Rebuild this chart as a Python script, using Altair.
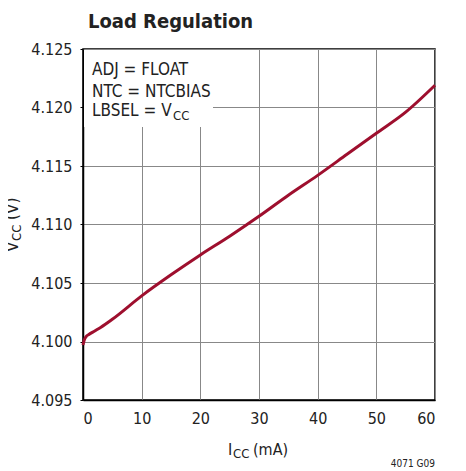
import altair as alt
import pandas as pd

# data
icc_ma = [0, 0.2, 0.5, 1, 2, 3, 5, 10, 15, 20, 25, 30, 35, 40, 45, 50, 55, 60]
vcc_v = [4.0997, 4.1001, 4.1004, 4.1006, 4.1009, 4.1012, 4.1019, 4.1039, 4.1057, 4.1074, 4.1090, 4.1107, 4.1125, 4.1142, 4.1160, 4.1178, 4.1196, 4.1219]
x_ticks = [0, 10, 20, 30, 40, 50, 60]
y_ticks = [4.095, 4.100, 4.105, 4.110, 4.115, 4.120, 4.125]
notes = ["ADJ = FLOAT", "NTC = NTCBIAS", "LBSEL = V"]

df = pd.DataFrame({"icc": icc_ma, "vcc": vcc_v})
FONT = "Liberation Sans Narrow, DejaVu Sans Condensed, Roboto, sans-serif"
W, H = 352, 351
RED = "#9e0f2e"

base = alt.Chart(df)
line = base.mark_line(color=RED, strokeWidth=3, interpolate="monotone").encode(
    x=alt.X("icc:Q", scale=alt.Scale(domain=[0, 60], nice=False),
            axis=alt.Axis(values=x_ticks, title=None, format="d", labelFontSize=16,
                          labelPadding=10, tickSize=0, gridColor="#888888", gridWidth=1)),
    y=alt.Y("vcc:Q", scale=alt.Scale(domain=[4.095, 4.125], nice=False, zero=False),
            axis=alt.Axis(values=y_ticks, title=None, format=".3f", labelFontSize=16,
                          labelPadding=8, tickSize=3, tickColor="#000000",
                          gridColor="#888888", gridWidth=1)),
)

def txt(s, x, y, size=16, weight="normal", align="left", angle=0, baseline="alphabetic"):
    return alt.Chart(pd.DataFrame({"t": [s]})).mark_text(
        font=FONT, fontSize=size, fontWeight=weight, align=align, baseline=baseline,
        angle=angle, color="#222222", clip=False
    ).encode(text="t:N", x=alt.value(x), y=alt.value(y))

box = alt.Chart(pd.DataFrame({"a": [0]})).mark_rect(color="white").encode(
    x=alt.value(1), x2=alt.value(130), y=alt.value(1), y2=alt.value(78))

layers = [line, box,
          txt(notes[0], 9, 26, size=17), txt(notes[1], 9, 48, size=17), txt(notes[2], 9, 67, size=17),
          txt("CC", 90, 71, size=13),
          txt("Load Regulation", 5, -21, size=20, weight="bold"),
          txt("I", 145, 406), txt("CC", 150, 409, size=13), txt("(mA)", 170, 406),
          txt("V", -65, 203, size=17, angle=270), txt("CC", -62, 192, size=13, angle=270),
          txt("(V)", -65, 171, size=17, angle=270),
          txt("4071 G09", W, 418, size=10, align="right")]

chart = alt.layer(*layers).properties(
    width=W, height=H,
    autosize=alt.AutoSizeParams(type="none"),
    padding={"left": 75, "top": 41, "right": 23, "bottom": 71},
).configure_view(stroke="#000000", strokeWidth=1.5).configure_axis(
    labelFont=FONT, labelColor="#222222", domainColor="#000000", domainWidth=1.5
)

chart.save("out.html", embed_options={"renderer": "svg", "actions": False})
